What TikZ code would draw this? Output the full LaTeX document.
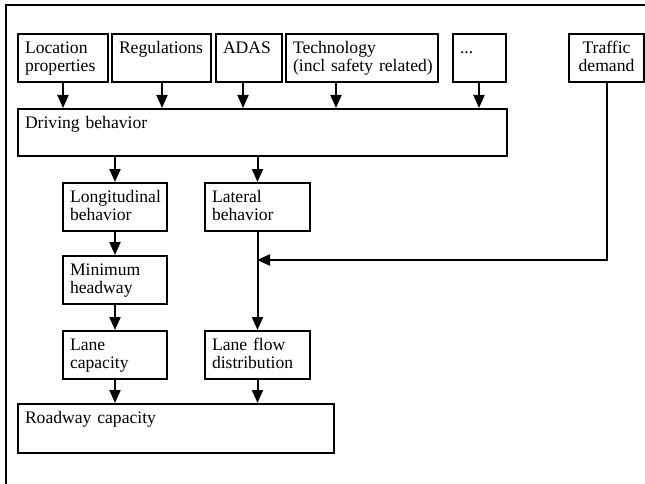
\documentclass[tikz,border=0pt]{standalone}
\usepackage{fontspec}
\setmainfont{Liberation Serif}
\usetikzlibrary{arrows.meta}
\begin{document}
\begin{tikzpicture}[x=1pt,y=-1pt,
  box/.style={draw, line width=2pt, anchor=north west, inner xsep=7pt, inner ysep=0pt,
    align=left, text height=19.5pt, text depth=28.5pt, font=\fontsize{17.6}{18}\selectfont},
  arr/.style={line width=2pt, -{Triangle[length=13pt,width=11pt]}},
  frame/.style={line width=2pt}
]
\useasboundingbox (0,0) rectangle (645,484);
\draw[frame] (645,5) -- (6,5) -- (6,484);
% top row
\node[box, text width=76pt] (loc) at (17,33) {Location\\properties};
\node[box, text width=85pt] (reg) at (111,33) {Regulations};
\node[box, text width=52pt] (adas) at (215,33) {ADAS};
\node[box, text width=138pt] (tech) at (285,33) {Technology\\\mbox{(incl safety related)}};
\node[box, text width=39pt] (dots) at (452,33) {...};
\node[box, text width=61pt, align=center] (traffic) at (568,33) {Traffic\\demand};
% driving behaviour
\node[box, text width=475pt, text depth=27.5pt] (drive) at (17,108) {Driving behavior};
% middle
\node[box, text width=90pt] (long) at (62,182) {Longitudinal\\behavior};
\node[box, text width=91pt] (lat) at (204,182) {Lateral\\behavior};
\node[box, text width=90pt] (mini) at (62,255) {Minimum\\headway};
\node[box, text width=90pt] (cap) at (62,330) {Lane\\capacity};
\node[box, text width=91pt] (flow) at (204,330) {Lane flow\\distribution};
\node[box, text width=302pt, text depth=29.5pt] (road) at (17,403) {Roadway capacity};
% coordinates for arrow columns
\coordinate (c1) at (63,0);
\coordinate (c2) at (162,0);
\coordinate (c3) at (243,0);
\coordinate (c4) at (336,0);
\coordinate (c5) at (479,0);
\coordinate (merge) at (257,260);
% arrows
\draw[arr] (loc.south -| c1) -- (drive.north -| c1);
\draw[arr] (reg.south -| c2) -- (drive.north -| c2);
\draw[arr] (adas.south -| c3) -- (drive.north -| c3);
\draw[arr] (tech.south -| c4) -- (drive.north -| c4);
\draw[arr] (dots.south -| c5) -- (drive.north -| c5);
\draw[arr] (drive.south -| long.north) -- (long.north);
\draw[arr] (drive.south -| lat.north) -- (lat.north);
\draw[arr] (long.south) -- (mini.north);
\draw[arr] (mini.south) -- (cap.north);
\draw[arr] (lat.south) -- (flow.north);
\draw[arr] (traffic.south) |- (merge);
\draw[arr] (cap.south) -- (road.north -| cap.south);
\draw[arr] (flow.south) -- (road.north -| flow.south);
\end{tikzpicture}
\end{document}
